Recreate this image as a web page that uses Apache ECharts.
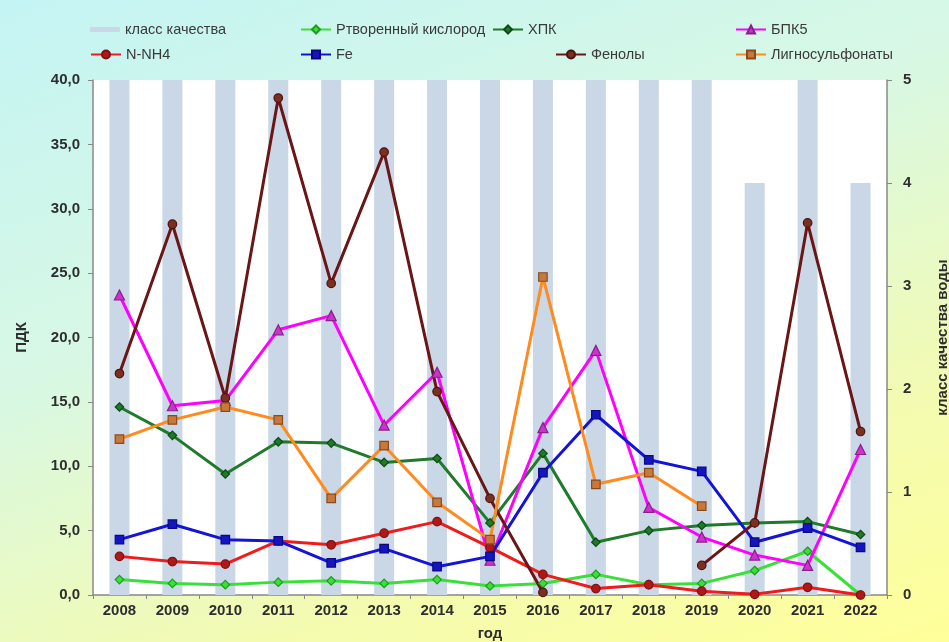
<!DOCTYPE html>
<html><head><meta charset="utf-8">
<script src="https://cdn.jsdelivr.net/npm/echarts@6/dist/echarts.min.js"></script>
<style>
html,body{margin:0;padding:0;}
body{width:949px;height:642px;background:linear-gradient(160deg,#c4f4f4 0%,#d8f8e4 40%,#f4fbb0 75%,#ffff9a 100%);}
#c{width:949px;height:642px;}
</style></head>
<body><div id="c"></div>
<script>
const years = ['2008','2009','2010','2011','2012','2013','2014','2015','2016','2017','2018','2019','2020','2021','2022'];
const waterClass = [5,5,5,5,5,5,5,5,5,5,5,5,4,5,4];
const oxygen = [1.2,0.9,0.8,1.0,1.1,0.9,1.2,0.7,0.9,1.6,0.8,0.9,1.9,3.4,0.0];
const hpk = [14.6,12.4,9.4,11.9,11.8,10.3,10.6,5.6,11.0,4.1,5.0,5.4,5.6,5.7,4.7];
const bpk5 = [23.3,14.7,15.1,20.6,21.7,13.2,17.3,2.7,13.0,19.0,6.8,4.5,3.1,2.3,11.3];
const nh4 = [3.0,2.6,2.4,4.2,3.9,4.8,5.7,3.7,1.6,0.5,0.8,0.3,0.05,0.6,0.0];
const fe = [4.3,5.5,4.3,4.2,2.5,3.6,2.2,3.0,9.5,14.0,10.5,9.6,4.1,5.2,3.7];
const phenols = [17.2,28.8,15.3,38.6,24.2,34.4,15.8,7.5,0.2,null,null,2.3,5.6,28.9,12.7];
const ligno = [12.1,13.6,14.6,13.6,7.5,11.6,7.2,4.3,24.7,8.6,9.5,6.9,null,null,null];
const leftTicks = {min:0,max:40,interval:5};
const rightTicks = {min:0,max:5,interval:1};

const names = ['класс качества','Ртворенный кислород','ХПК','БПК5','N-NH4','Fe','Фенолы','Лигносульфонаты'];
const legendPos = [[90,22],[300,22],[492,22],[735,22],[90,47],[300,47],[555,47],[735,47]];
const lf = 'Liberation Sans Narrow, Arial Narrow, Liberation Sans, sans-serif';
const legends = names.map((n,i)=>({
  data:[n], left:legendPos[i][0], top:legendPos[i][1], itemWidth:30, itemHeight:i===0?5:10, itemGap:4,
  textStyle:{fontFamily:lf,fontSize:14.5,color:'#3a3a3a'}, padding:0
}));

function lineS(name,data,color,symbol,fill,border,z){
  return {name:name,type:'line',data:data,yAxisIndex:0,symbol:symbol,symbolSize:symbol==='triangle'?10:8.5,
    connectNulls:false,z:z,
    lineStyle:{color:color,width:3},
    itemStyle:{color:fill,borderColor:border,borderWidth:1.2}};
}
const ax = {fontFamily:'Liberation Sans, Arial, sans-serif',fontWeight:'bold',fontSize:15,color:'#2e2e2e'};
const chart = echarts.init(document.getElementById('c'),null,{renderer:'canvas'});
chart.setOption({
  backgroundColor:'transparent',
  animation:false,
  legend:legends,
  grid:{left:93,right:62,top:80,bottom:47,show:true,backgroundColor:'#ffffff',borderWidth:0,
        containLabel:false,outerBoundsMode:'none'},
  xAxis:{type:'category',data:years,boundaryGap:true,
    name:'год',nameLocation:'middle',nameGap:31,nameTextStyle:ax,
    axisLine:{lineStyle:{color:'#888',width:1.5}},
    axisTick:{show:true,length:4,lineStyle:{color:'#888'}},
    axisLabel:Object.assign({margin:8},ax)},
  yAxis:[
    {type:'value',min:leftTicks.min,max:leftTicks.max,interval:leftTicks.interval,
     name:'ПДК',nameLocation:'middle',nameGap:64,nameRotate:90,nameTextStyle:ax,
     axisLine:{show:true,lineStyle:{color:'#888',width:1.5}},
     axisTick:{show:true,length:5,lineStyle:{color:'#888'}},
     splitLine:{show:false},
     axisLabel:Object.assign({margin:13,formatter:v=>v.toFixed(1).replace('.',',')},ax)},
    {type:'value',min:rightTicks.min,max:rightTicks.max,interval:rightTicks.interval,position:'right',
     name:'класс качества воды',nameLocation:'middle',nameGap:48,nameRotate:90,nameTextStyle:ax,
     axisLine:{show:true,lineStyle:{color:'#888',width:1.5}},
     axisTick:{show:true,length:5,lineStyle:{color:'#888'}},
     splitLine:{show:false},
     axisLabel:Object.assign({margin:16},ax)}
  ],
  series:[
    {name:names[0],type:'bar',yAxisIndex:1,data:waterClass,barWidth:20,itemStyle:{color:'#c9d7e6'},z:1},
    lineS(names[1],oxygen,'#39e039','diamond','#39e039','#1f9a1f',3),
    lineS(names[2],hpk,'#1f7a2a','diamond','#1f7a2a','#0f4a15',3),
    lineS(names[3],bpk5,'#ff00ff','triangle','#cc33cc','#8a1f8a',3),
    lineS(names[4],nh4,'#ee1c1c','circle','#b01818','#801010',3),
    lineS(names[5],fe,'#1414d8','rect','#1414c0','#0a0a80',3),
    lineS(names[6],phenols,'#6a1616','circle','#7a3020','#501010',3),
    lineS(names[7],ligno,'#ff8a1e','rect','#c87838','#8a4a20',3)
  ]
});
</script></body></html>
